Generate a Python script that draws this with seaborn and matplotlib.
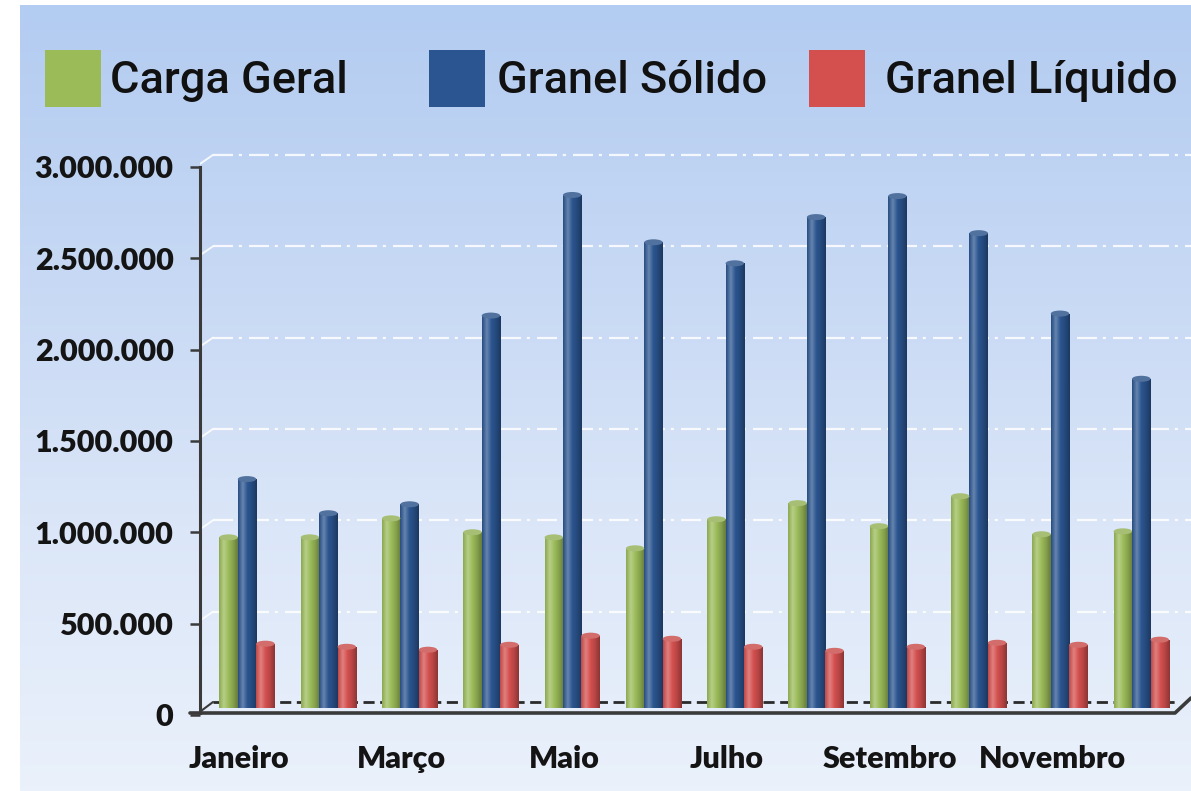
import numpy as np
import pandas as pd
import matplotlib
matplotlib.use("Agg")
import matplotlib.pyplot as plt
import seaborn as sns
from matplotlib.transforms import ScaledTranslation
from matplotlib.patches import Rectangle, Ellipse
from matplotlib.lines import Line2D
from matplotlib.colors import to_rgb, LinearSegmentedColormap

# ---------------- data ----------------
months = ["Janeiro", "Fevereiro", "Março", "Abril", "Maio", "Junho",
          "Julho", "Agosto", "Setembro", "Outubro", "Novembro", "Dezembro"]
carga_geral = [934000, 934000, 1038000, 962000, 934000, 874000,
               1033000, 1121000, 995000, 1159000, 951000, 967000]
granel_solido = [1253000, 1066000, 1115000, 2148000, 2808000, 2549000,
                 2434000, 2687000, 2802000, 2599000, 2159000, 1802000]
granel_liquido = [352000, 335000, 319000, 346000, 396000, 379000,
                  335000, 313000, 335000, 357000, 346000, 374000]
series = ["Carga Geral", "Granel Sólido", "Granel Líquido"]
y_ticks = [0, 500000, 1000000, 1500000, 2000000, 2500000, 3000000]
x_label_months = months[::2]

colors = ["#9bbb59", "#2b5590", "#d4504f"]

df = pd.DataFrame({
    "Mês": months * 3,
    "Toneladas": carga_geral + granel_solido + granel_liquido,
    "Tipo": [s for s in series for _ in months],
})

# ---------------- figure ----------------
sns.set_theme(style="white")
plt.rcParams["font.family"] = ["Lato", "DejaVu Sans"]

W, H = 1191, 791
fig = plt.figure(figsize=(W / 100, H / 100), dpi=100)
fig.patch.set_facecolor("white")

# background gradient
bg = fig.add_axes([20 / W, 0, 1 - 20 / W, 1 - 5 / H], zorder=0)
grad_cmap = LinearSegmentedColormap.from_list(
    "bg", ["#b3ccf1", "#c6d8f4", "#dbe6f8", "#eaf1fb"])
bg.imshow(np.linspace(0, 1, 256)[:, None], aspect="auto", cmap=grad_cmap,
          extent=[0, 1, 0, 1], interpolation="bilinear")
bg.axis("off")

ax = fig.add_axes([200 / W, (H - 713) / H, (W - 200) / W, (713 - 150) / H], zorder=1)
ax.patch.set_alpha(0)

sns.barplot(data=df, x="Mês", y="Toneladas", hue="Tipo", order=months,
            hue_order=series, palette=colors, saturation=1, width=0.68,
            gap=0, linewidth=0, legend=False, ax=ax, zorder=3)

bars = list(ax.patches)
for p in bars:
    base = np.array(to_rgb(p.get_facecolor()))
    light = np.clip(base + (1 - base) * 0.28, 0, 1)
    dark = base * 0.66
    cmap = LinearSegmentedColormap.from_list(
        "cyl", [base * 0.9, light, base, base * 0.86, dark])
    x0, w = p.get_x(), p.get_width()
    y0, h = p.get_y(), p.get_height()
    im = ax.imshow(np.linspace(0, 1, 64)[None, :], cmap=cmap,
                   extent=[x0, x0 + w, y0, y0 + h], aspect="auto",
                   zorder=3.1, interpolation="bilinear")
    im.set_clip_path(p)
    top = Ellipse((x0 + w / 2, y0 + h), w, 6 / 182.7 * 1e6,
                  facecolor=np.clip(base + (1 - base) * 0.2, 0, 1) * 0.95,
                  edgecolor="none", zorder=3.2)
    ax.add_patch(top)

x_left = (200 - 247) / 81.3
x_right = (W - 247) / 81.3
ax.set_xlim(x_left, x_right)
ax.set_ylim(-(713 - 708) / 182.7 * 1e6, (708 - 150) / 182.7 * 1e6)

# gridlines (back wall, slightly higher)
up = ScaledTranslation(0, 0.05, fig.dpi_scale_trans)
x213 = (213 - 247) / 81.3
for v in y_ticks[1:]:
    ax.plot([x213, x_right], [v, v], color="white", alpha=0.85, lw=1.6,
            linestyle=(0, (9.0, 2.6, 1.4, 3.2)), transform=ax.transData + up,
            zorder=1, solid_capstyle="butt")
    ax.plot([x_left, x213], [v - 9 / 182.7 * 1e6, v], color="white", alpha=0.85,
            lw=1.4, transform=ax.transData + up, zorder=1)

# back floor dashed line
ax.plot([(213 - 200) / (W - 200), (1175 - 200) / (W - 200)],
        [(713 - 702) / 563, (713 - 702) / 563], transform=ax.transAxes,
        color="#2a2a2a", lw=2.0, linestyle=(0, (4, 2)), zorder=2)

# front floor line
fig.add_artist(Line2D([190 / W, 1175 / W, W / W], [1 - 713 / H, 1 - 713 / H, 1 - 698 / H],
                      color="#3a3a3a", lw=2.6, transform=fig.transFigure, zorder=5))
fig.add_artist(Line2D([201 / W, 213 / W], [1 - 711 / H, 1 - 702 / H],
                      color="#3a3a3a", lw=1.5, transform=fig.transFigure, zorder=5))

# spines / axes
for s in ["top", "right", "bottom"]:
    ax.spines[s].set_visible(False)
ax.spines["left"].set_color("#3a3a3a")
ax.spines["left"].set_linewidth(2.2)
ax.spines["left"].set_bounds(-(713 - 708) / 182.7 * 1e6, 2960000)

ax.set_yticks(y_ticks)
ax.set_yticklabels([f"{v:,}".replace(",", ".") for v in y_ticks])
ax.tick_params(axis="y", length=7, width=1.8, color="#3a3a3a", pad=12,
               labelsize=22, labelcolor="#141414", left=True)
down = ScaledTranslation(0, -0.07, fig.dpi_scale_trans)
for t in ax.yaxis.get_major_ticks():
    t.tick1line.set_transform(t.tick1line.get_transform() + down)
    t.label1.set_transform(t.label1.get_transform() + down)
for lab in ax.get_yticklabels():
    lab.set_fontweight("heavy")

ax.set_xticks(range(0, 12, 2))
ax.set_xticklabels(x_label_months)
ax.tick_params(axis="x", length=0, pad=23, labelsize=22, labelcolor="#141414")
left_shift = ScaledTranslation(-0.08, 0, fig.dpi_scale_trans)
for t in ax.xaxis.get_major_ticks():
    t.label1.set_transform(t.label1.get_transform() + left_shift)
for lab in ax.get_xticklabels():
    lab.set_fontweight("heavy")
ax.set_xlabel("")
ax.set_ylabel("")
ax.grid(False)

# legend (manual)
sq_x = [45, 429, 809]
tx_x = [110, 497, 885]
for name, col, sx, tx in zip(series, colors, sq_x, tx_x):
    fig.add_artist(Rectangle((sx / W, 1 - 107 / H), 56 / W, 57 / H,
                             transform=fig.transFigure, facecolor=col,
                             edgecolor="none", zorder=5))
    fig.text(tx / W, 1 - 93 / H, name, fontsize=32.5, family=["Roboto", "DejaVu Sans"],
             fontweight="medium", color="#111111", va="baseline", ha="left", zorder=6)

fig.savefig("out.png", dpi=100)
